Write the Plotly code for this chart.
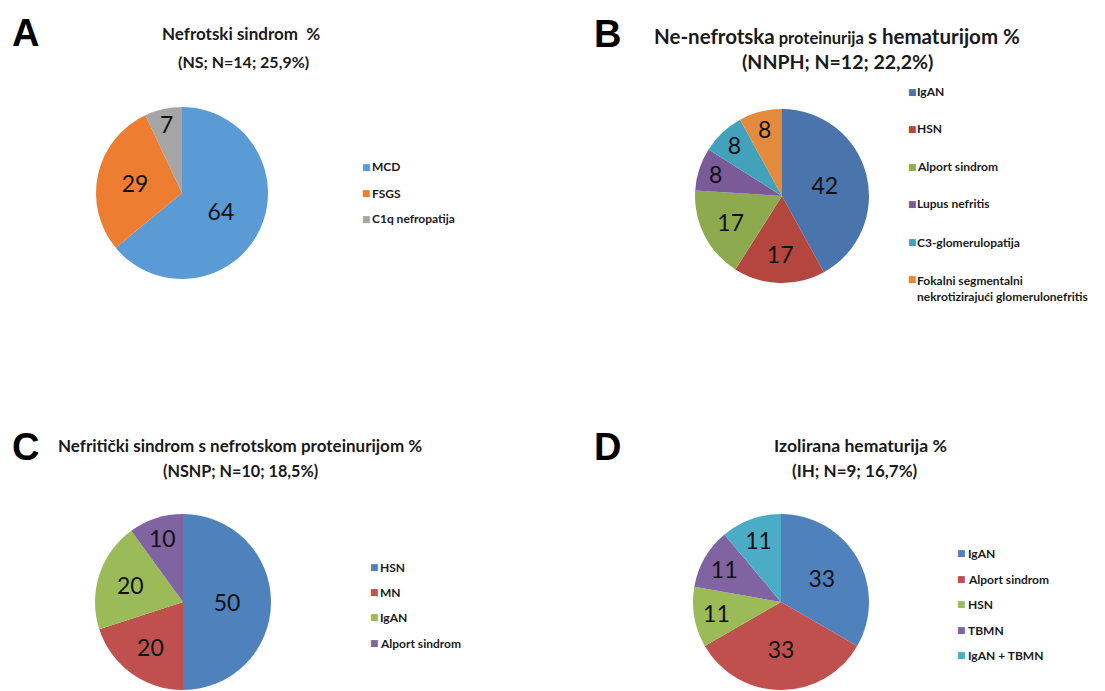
import plotly.graph_objects as go

W, H = 1105, 691

# ---- data ----
a_labels = ["MCD", "FSGS", "C1q nefropatija"]
a_values = [64, 29, 7]
a_colors = ["#5B9BD5", "#ED7D31", "#A5A5A5"]

b_labels = ["IgAN", "HSN", "Alport sindrom", "Lupus nefritis", "C3-glomerulopatija",
            "Fokalni segmentalni<br>nekrotizirajući glomerulonefritis"]
b_values = [42, 17, 17, 8, 8, 8]
b_colors = ["#4A74AC", "#B5453F", "#8DAA4E", "#7A5B97", "#42A2BC", "#E38A3D"]

c_labels = ["HSN", "MN", "IgAN", "Alport sindrom"]
c_values = [50, 20, 20, 10]
c_colors = ["#4F81BD", "#C0504D", "#9BBB59", "#8064A2"]

d_labels = ["IgAN", "Alport sindrom", "HSN", "TBMN", "IgAN + TBMN"]
d_values = [33, 33, 11, 11, 11]
d_colors = ["#4F81BD", "#C0504D", "#9BBB59", "#8064A2", "#4BACC6"]

titles = {
    "A": ["Nefrotski sindrom  %", "(NS; N=14; 25,9%)"],
    "B": ['<span style="font-size:20.5px">Ne-nefrotska</span> proteinurija <span style="font-size:20.5px">s hematurijom %</span>',
          "(NNPH; N=12; 22,2%)"],
    "C": ["Nefritički sindrom s nefrotskom proteinurijom %", "(NSNP; N=10; 18,5%)"],
    "D": ["Izolirana hematurija %", "(IH; N=9; 16,7%)"],
}

# ---- layout helpers (pixel -> paper) ----
def px(x):
    return x / W

def py(y):
    return 1 - y / H

def dom(cx, cy, r):
    return dict(x=[px(cx - r), px(cx + r)], y=[py(cy + r), py(cy - r)])

FONT = "Lato"

panels = [
    dict(key="A", labels=a_labels, values=a_values, colors=a_colors, pie=(182, 193, 86),
         letter=(25, 33), t1=(241, 34), t2=(243, 61), ts=(17, 16),
         leg=(366, 370, [167, 193, 219])),
    dict(key="B", labels=b_labels, values=b_values, colors=b_colors, pie=(782, 196, 87),
         letter=(607, 34), t1=(837, 36), t2=(837, 62), ts=(16.5, 19.5),
         leg=(912.5, 915, [92, 129, 167, 204, 242, 279])),
    dict(key="C", labels=c_labels, values=c_values, colors=c_colors, pie=(183, 602, 88),
         letter=(25, 447), t1=(240, 445), t2=(240, 470), ts=(17, 16.2),
         leg=(374.5, 378, [567, 592, 617, 643])),
    dict(key="D", labels=d_labels, values=d_values, colors=d_colors, pie=(781, 602, 88),
         letter=(607, 447), t1=(860, 445), t2=(855, 470), ts=(17.6, 17),
         leg=(961.5, 966, [553, 579, 604, 630, 655])),
]

fig = go.Figure()
annotations = []

for p in panels:
    cx, cy, r = p["pie"]
    fig.add_trace(go.Pie(
        labels=p["labels"], values=p["values"],
        marker=dict(colors=p["colors"], line=dict(width=0)),
        sort=False, direction="clockwise", rotation=0,
        textinfo="value", textposition="inside",
        insidetextorientation="horizontal",
        textfont=dict(family=FONT, size=23, color="#111111"),
        domain=dom(cx, cy, r), showlegend=False, hoverinfo="label+value",
    ))
    lx, ly = p["letter"]
    annotations.append(dict(x=px(lx), y=py(ly), xref="paper", yref="paper",
                            text="<b>%s</b>" % p["key"], showarrow=False,
                            xanchor="center", yanchor="middle",
                            font=dict(family="Liberation Sans", size=38, color="#000000")))
    l1, l2 = titles[p["key"]]
    s1, s2 = p["ts"]
    annotations.append(dict(x=px(p["t1"][0]), y=py(p["t1"][1]), xref="paper", yref="paper",
                            text="<b>%s</b>" % l1, showarrow=False, xanchor="center", yanchor="middle",
                            font=dict(family=FONT, size=s1, color="#1a1a1a")))
    annotations.append(dict(x=px(p["t2"][0]), y=py(p["t2"][1]), xref="paper", yref="paper",
                            text="<b>%s</b>" % l2, showarrow=False, xanchor="center", yanchor="middle",
                            font=dict(family=FONT, size=s2, color="#1a1a1a")))
    sx, tx, ys = p["leg"]
    for lab, col, yy in zip(p["labels"], p["colors"], ys):
        annotations.append(dict(x=px(sx), y=py(yy), xref="paper", yref="paper",
                                text="■", showarrow=False, xanchor="center", yanchor="middle",
                                font=dict(family="DejaVu Sans", size=9, color=col)))
        annotations.append(dict(x=px(tx), y=py(yy), xref="paper", yref="paper",
                                text="<b>%s</b>" % lab, showarrow=False, xanchor="left",
                                yanchor="top" if "<br>" in lab else "middle",
                                yshift=8 if "<br>" in lab else 0,
                                align="left",
                                font=dict(family=FONT, size=12, color="#1a1a1a")))

fig.update_layout(
    width=W, height=H,
    margin=dict(l=0, r=0, t=0, b=0),
    paper_bgcolor="white", plot_bgcolor="white",
    annotations=annotations,
    showlegend=False,
)

fig.write_html("out.html", config={"displayModeBar": False},
               post_script="document.body.style.margin='0';")
